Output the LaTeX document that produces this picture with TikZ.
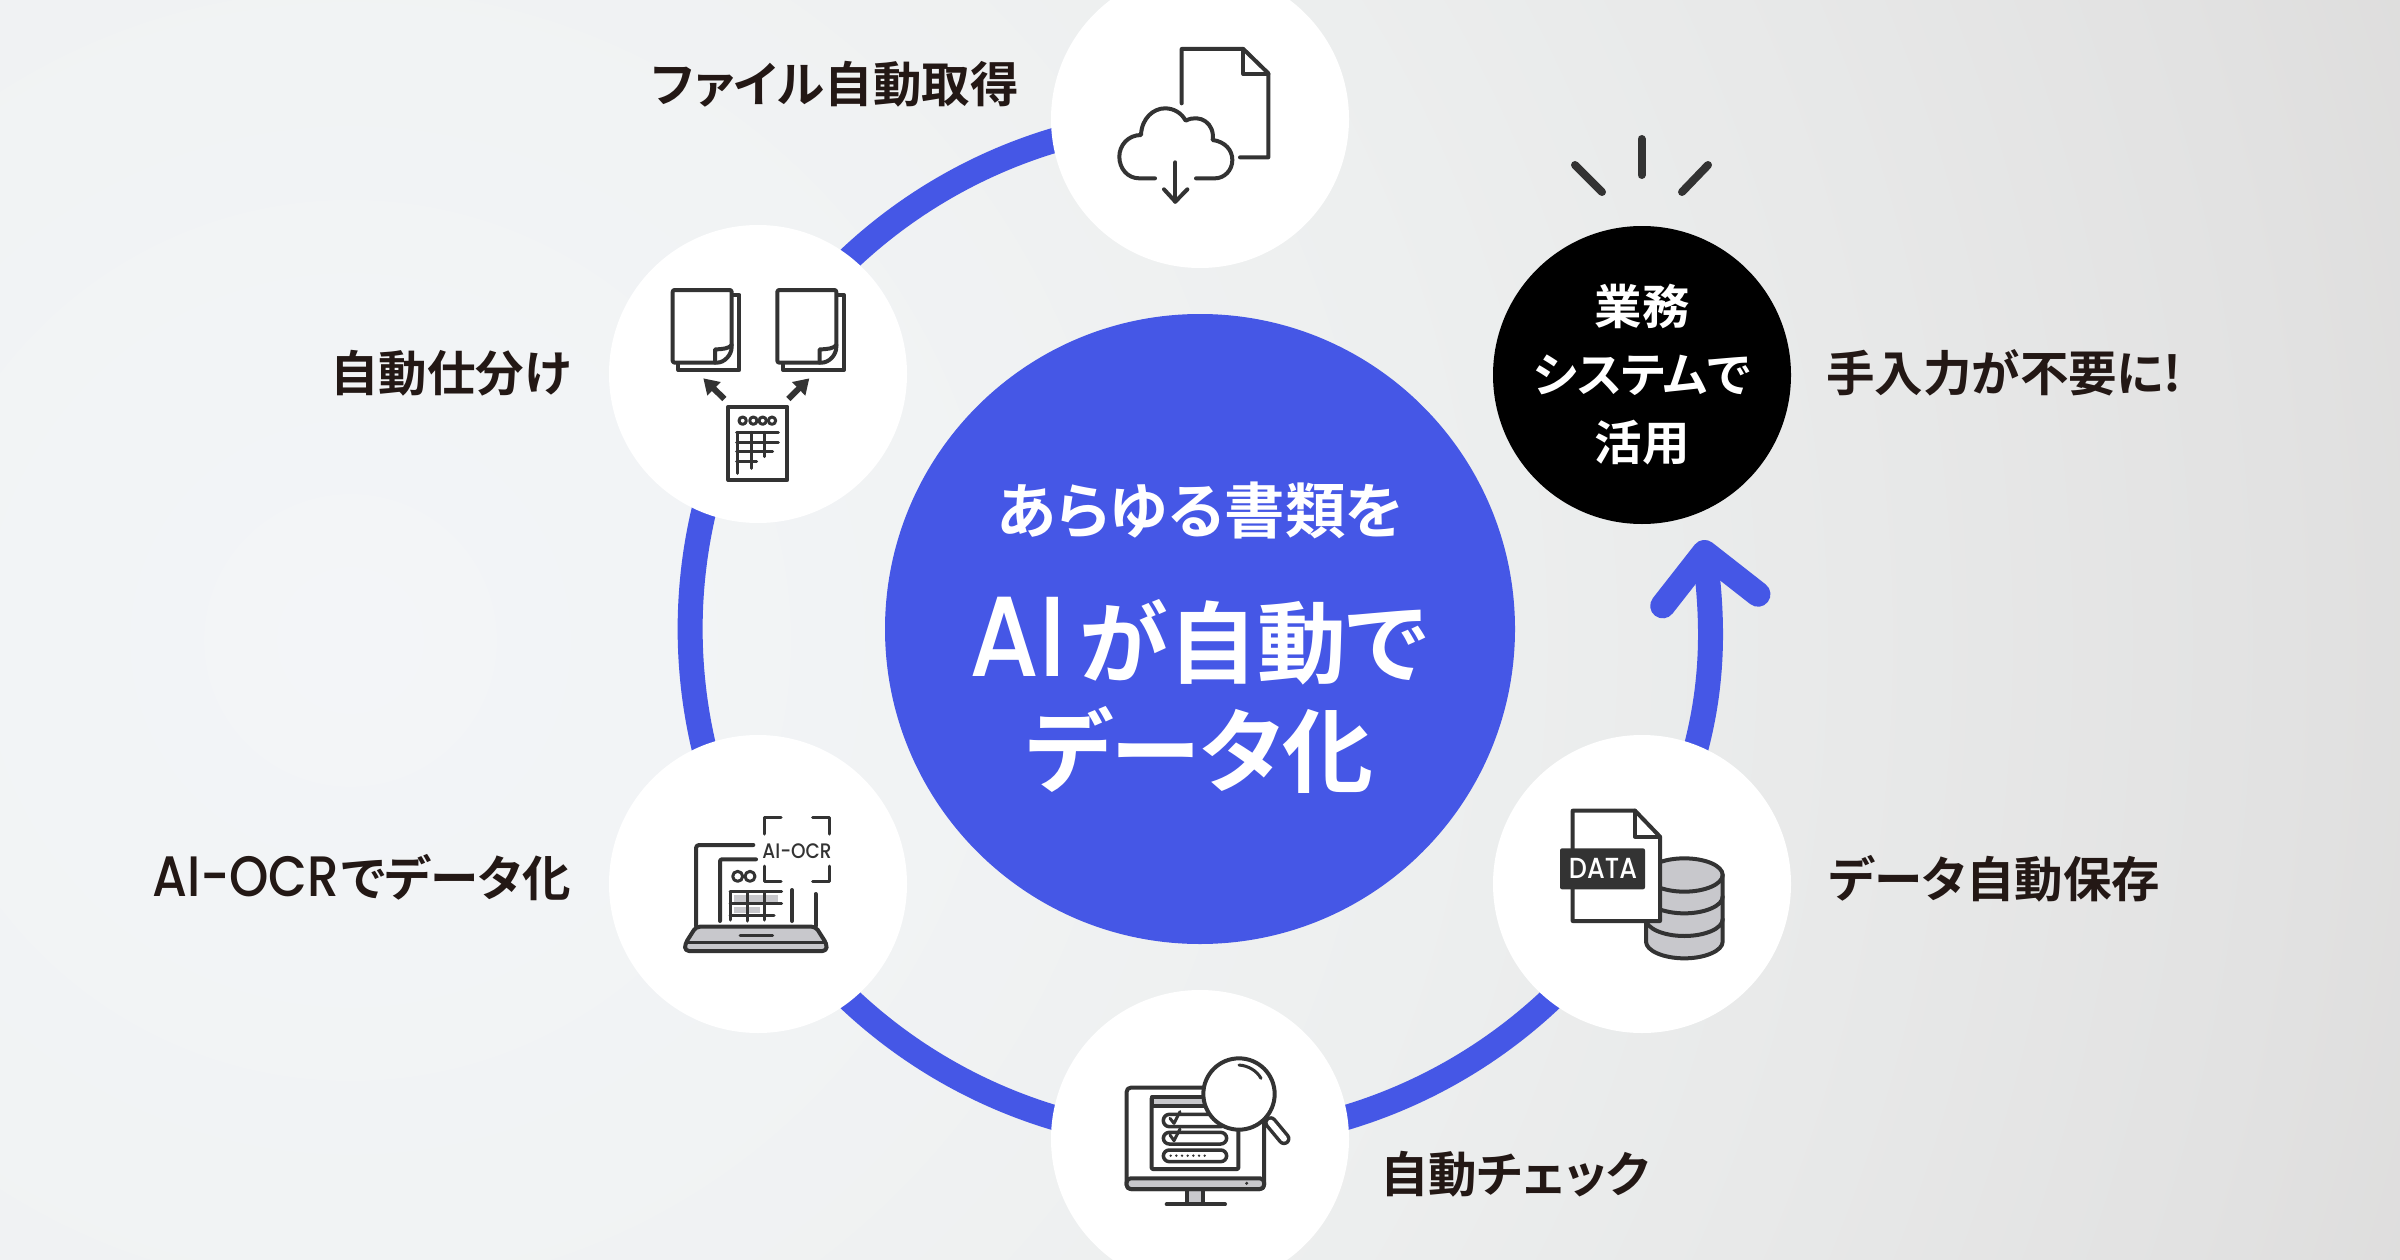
\documentclass[tikz,border=0pt]{standalone}
\usepackage{fontspec}
\setmainfont{Noto Sans CJK JP Bold}[RawFeature={+palt}]
\newfontfamily\latinfont{Poppins Medium}[FakeStretch=0.88]
\usetikzlibrary{arrows.meta}
\definecolor{ringblue}{RGB}{69,87,230}
\definecolor{labelink}{RGB}{35,24,21}
\definecolor{iconink}{RGB}{51,51,51}
\definecolor{icongray}{RGB}{200,200,204}
\definecolor{bgin}{RGB}{243,245,248}
\definecolor{bgnear}{RGB}{241,243,244}
\definecolor{bgmid}{RGB}{237,239,239}
\definecolor{bgfar}{RGB}{232,233,233}
\definecolor{bgdeep}{RGB}{226,226,226}
\definecolor{bgdark}{RGB}{218,217,216}
\definecolor{bgout}{RGB}{204,201,199}
\pgfdeclareradialshading{bgglow}{\pgfpoint{0bp}{0bp}}{color(0bp)=(bgin); color(7bp)=(bgnear); color(13bp)=(bgmid); color(18bp)=(bgfar); color(23bp)=(bgdeep); color(28.3bp)=(bgdark); color(35.4bp)=(bgout); color(50bp)=(bgout)}
\pgfdeclarelayer{ringlayer}
\pgfsetlayers{ringlayer,main}
\tikzstyle{hub} = [circle, fill=white, minimum size=298pt, inner sep=0pt]
\tikzstyle{lbl} = [inner sep=0pt, text=labelink, font=\fontsize{48.5}{48.5}\selectfont]
\tikzstyle{ringline} = [line width=25pt, draw=ringblue, looseness=0.91]
\tikzstyle{icon} = [shift={#1}, scale=1/3, line width=4pt, draw=iconink, line join=round, line cap=round]
\tikzstyle{sheetline} = [line width=4pt, draw=iconink, line join=round, line cap=round]
\tikzset{%
    sheet/.pic={%
        \draw [sheetline] (180,15) -- (200,15) -- (200,240) -- (17,240) -- (17,223);
        \draw [sheetline, fill=white, rounded corners=2pt] (0,0) -- (177,0) -- (177,165) .. controls (177,195) and (155,218) .. (127,218) -- (0,218) -- cycle;
        \draw [sheetline] (127,218) -- (127,178) .. controls (150,178) and (170,175) .. (177,165);
    },
}
\begin{document}
\begin{tikzpicture}[x=1pt,y=-1pt]
    \path [use as bounding box] (0,0) rectangle (2400,1260);

    \node [circle, fill=ringblue, minimum size=630pt, inner sep=0pt] (core) at (1200,629) {};
    \node [hub] (fetch) at (1200,119) {};
    \node [hub] (sort) at (758,374) {};
    \node [hub] (ocr) at (758,884) {};
    \node [hub] (check) at (1200,1139) {};
    \node [hub] (store) at (1642,884) {};
    \node [circle, fill=black, minimum size=298pt, inner sep=0pt, text=white, align=center, font=\fontsize{47.5}{68}\selectfont] (use) at (1642,375) {業務\\システムで\\活用};
    \coordinate (arrowend) at (1703,540);

    \begin{pgfonlayer}{ringlayer}
        \begin{scope}
            \clip (0,0) rectangle (2400,1260);
            \shade [shading=bgglow] (-1750,-1460) rectangle (2450,2740);
            \draw [ringline] (fetch.center) to [bend right=30] (sort.center);
            \draw [ringline] (sort.center) to [bend right=30] (ocr.center);
            \draw [ringline] (ocr.center) to [bend right=30] (check.center);
            \draw [ringline] (check.center) to [bend right=30] (store.center);
            \draw [ringline, looseness=1, -{Straight Barb[round,length=48pt,width=96pt]}] (store.center) to [bend right=17] (arrowend);
        \end{scope}
    \end{pgfonlayer}

    % centre
    \node [inner sep=0pt, text=white, font=\fontsize{60.5}{60.5}\selectfont] (line1) at (1200,510) {あらゆる書類を};
    \node [inner sep=0pt, text=white, font=\fontsize{89}{89}\selectfont, anchor=base] (line2) at (1198,676) {{\latinfont\fontsize{114}{114}\selectfont AI}\kern14pt が自動で};
    \node [inner sep=0pt, text=white, font=\fontsize{91}{91}\selectfont] (line3) at (1200,750) {データ化};

    % labels
    \node [lbl, anchor=east] (fetchlbl) at (1019,84) {ファイル自動取得};
    \node [lbl, anchor=east] (sortlbl) at (571,373) {自動仕分け};
    \node [lbl, anchor=base east] (ocrlbl) at (571,896) {{\latinfont\fontsize{57}{57}\selectfont AI-OCR}\kern2pt でデータ化};
    \node [lbl, anchor=west] (checklbl) at (1380,1174) {自動チェック};
    \node [lbl, anchor=west] (storelbl) at (1829,879) {データ自動保存};
    \node [lbl, anchor=west] (uselbl) at (1826,373) {手入力が不要に!};

    % sparkle
    \draw [line width=8pt, draw=iconink, line cap=round] (1641.5,139) -- (1641.5,175);
    \draw [line width=8pt, draw=iconink, line cap=round] (1575,165) -- (1602,192);
    \draw [line width=8pt, draw=iconink, line cap=round] (1708,165) -- (1682,192);

    % cloud file
    \begin{scope}[icon={(1040,0)}]
        \draw (425,310) -- (425,147) -- (610,147) -- (685,220) -- (685,472) -- (600,472);
        \draw (610,147) -- (610,222) -- (685,222);
        \draw (345,535) -- (298,535) .. controls (262,535) and (238,505) .. (238,470) .. controls (238,435) and (265,405) .. (303,405) .. controls (305,355) and (340,325) .. (375,325) .. controls (403,325) and (425,340) .. (437,362) .. controls (480,340) and (525,370) .. (518,420) .. controls (555,425) and (577,450) .. (577,480) .. controls (577,512) and (552,535) .. (525,535) -- (468,535);
        \draw (406,487) -- (406,605);
        \draw (372,568) -- (406,605) -- (442,568);
    \end{scope}

    % sorting
    \begin{scope}[icon={(610,230)}]
        \pic [scale=1/3] at (188,180) {sheet};
        \pic [scale=1/3] at (502,180) {sheet};
        \draw [line width=6pt, line cap=butt, -{Triangle[length=15pt,width=18pt]}, iconink] (343,507) -- (280,445);
        \draw [line width=6pt, line cap=butt, -{Triangle[length=15pt,width=18pt]}, iconink] (535,507) -- (598,445);
        \draw (355,530) rectangle (532,750);
        \foreach \cx in {398,430,458,486}
            \draw [line width=3pt] (\cx,572) circle (11);
        \draw [line width=3pt] (380,607) -- (505,607) (380,637) -- (505,637) (380,665) -- (488,665) (380,695) -- (440,695);
        \draw [line width=3pt] (382,607) -- (382,730) (424,607) -- (424,715) (462,607) -- (462,680);
    \end{scope}

    % laptop
    \begin{scope}[icon={(610,740)}]
        \fill [icongray] (372,465) rectangle (505,485);
        \fill [icongray] (372,500) rectangle (450,520);
        \draw [rounded corners=3pt] (258,558) -- (258,315) -- (430,315);
        \draw [rounded corners=2pt] (330,543) -- (330,358) -- (438,358);
        \draw [line width=3pt] (463,282) -- (463,232) -- (513,232);
        \draw [line width=3pt] (608,232) -- (657,232) -- (657,282);
        \draw [line width=3pt] (463,378) -- (463,425) -- (513,425);
        \draw [line width=3pt] (608,425) -- (657,425) -- (657,378);
        \node [inner sep=0pt, text=iconink, font=\latinfont\fontsize{21}{21}\selectfont] (ocrtag) at (561,333) {AI-OCR};
        \draw [line width=3pt] (383,409) circle (15) (420,409) circle (15);
        \draw [line width=3pt] (360,455) -- (515,455) (360,490) -- (515,490) (360,527) -- (492,527);
        \draw [line width=3pt] (360,455) -- (360,540) (413,455) -- (413,543) (462,455) -- (462,540);
        \draw (546,450) -- (546,543);
        \draw (617,462) -- (617,558);
        \draw [fill=icongray, rounded corners=4pt] (258,560) -- (617,560) -- (650,612) -- (650,633) -- (225,633) -- (225,612) -- cycle;
        \draw [line width=3pt] (230,607) -- (648,607);
        \draw [line width=3pt] (390,585) -- (488,585);
    \end{scope}

    % database
    \begin{scope}[icon={(1490,740)}]
        \draw [fill=icongray] (468,405) -- (468,605) .. controls (468,632) and (520,655) .. (583,655) .. controls (646,655) and (698,632) .. (698,605) -- (698,405) .. controls (698,377) and (646,355) .. (583,355) .. controls (520,355) and (468,377) .. (468,405) -- cycle;
        \foreach \by in {405,470,538}
            \draw (468,\by) .. controls (468,\by+27) and (520,\by+50) .. (583,\by+50) .. controls (646,\by+50) and (698,\by+27) .. (698,\by);
        \draw [fill=white] (248,212) -- (435,212) -- (510,290) -- (510,543) -- (248,543) -- cycle;
        \draw (435,212) -- (435,290) -- (510,290);
        \fill [iconink, rounded corners=2pt] (210,325) rectangle (465,448);
        \node [inner sep=0pt, text=white, font=\latinfont\fontsize{29}{29}\selectfont] (datatag) at (339,385) {DATA};
    \end{scope}

    % monitor
    \begin{scope}[icon={(1060,1000)}]
        \draw [fill=icongray] (382,567) rectangle (430,612);
        \draw (320,613) -- (495,613);
        \draw [fill=white, rounded corners=4pt] (200,263) rectangle (612,567);
        \draw [fill=icongray, rounded corners=4pt] (200,535) -- (612,535) -- (612,567) -- (200,567) -- cycle;
        \fill [iconink] (560,550) circle (5);
        \draw [rounded corners=1pt] (275,292) rectangle (535,507);
        \draw [fill=icongray] (275,292) rectangle (535,318);
        \draw [rounded corners=6pt, line width=3.5pt] (310,343) rectangle (500,380);
        \draw [rounded corners=6pt, line width=3.5pt] (310,397) rectangle (500,432);
        \draw [rounded corners=6pt, line width=3.5pt] (310,450) rectangle (500,485);
        \draw [line width=3pt] (330,355) -- (342,370) -- (360,335);
        \draw [line width=3pt] (330,405) -- (342,422) -- (360,387);
        \foreach \dx in {332,349,...,450}
            \fill [iconink] (\dx,467) circle (4);
        \draw [line width=13pt] (632,368) -- (672,416);
        \draw [line width=6pt, draw=white] (632,368) -- (672,416);
        \draw [fill=white] (537,282) circle (107);
        \draw [line width=3pt] (537,195) .. controls (565,197) and (590,212) .. (603,235);
    \end{scope}
\end{tikzpicture}
\end{document}
